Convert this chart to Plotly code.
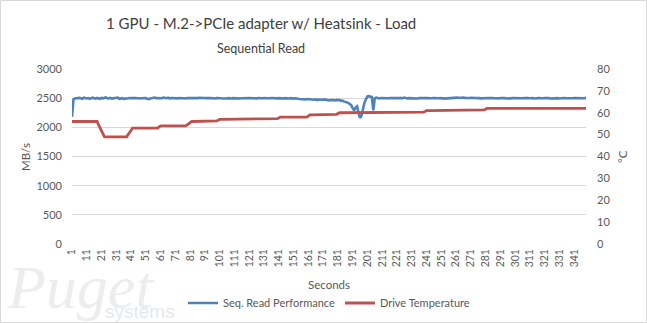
import plotly.graph_objects as go

# ---- data ---------------------------------------------------------------
# Seconds 1..349, sequential read throughput (MB/s), one value per second
read_mbps = [
    2180, 2480, 2495, 2500, 2492, 2505, 2498, 2490, 2508, 2500,
    2495, 2502, 2488, 2500, 2510, 2497, 2493, 2505, 2500, 2490,
    2503, 2497, 2508, 2512, 2495, 2500, 2505, 2493, 2500, 2498,
    2507, 2510, 2490, 2495, 2500, 2488, 2495, 2500, 2497, 2502,
    2498, 2495, 2500, 2502, 2497, 2500, 2495, 2498, 2500, 2496,
    2500, 2490, 2485, 2495, 2500, 2505, 2510, 2500, 2498, 2505,
    2502, 2498, 2510, 2505, 2500, 2508, 2495, 2502, 2500, 2498,
    2505, 2500, 2497, 2503, 2500, 2508, 2500, 2495, 2502, 2500,
    2505, 2498, 2500, 2503, 2497, 2500, 2505, 2500, 2498, 2502,
    2500, 2497, 2505, 2500, 2502, 2498, 2500, 2495, 2500, 2503,
    2500, 2498, 2495, 2500, 2502, 2497, 2500, 2492, 2495, 2500,
    2497, 2500, 2503, 2500, 2495, 2498, 2500, 2502, 2497, 2500,
    2495, 2500, 2498, 2502, 2500, 2497, 2500, 2495, 2500, 2498,
    2502, 2500, 2496, 2500, 2498, 2503, 2500, 2495, 2500, 2497,
    2500, 2498, 2490, 2495, 2500, 2497, 2492, 2495, 2500, 2490,
    2493, 2497, 2488, 2490, 2485, 2480, 2475, 2482, 2478, 2485,
    2480, 2475, 2470, 2478, 2472, 2480, 2468, 2475, 2470, 2465,
    2472, 2478, 2470, 2465, 2460, 2468, 2472, 2466, 2460, 2470,
    2465, 2470, 2455, 2460, 2445, 2440, 2430, 2420, 2400, 2380,
    2330, 2290, 2340, 2360, 2250, 2160, 2200, 2320, 2420, 2480,
    2530, 2535, 2525, 2520, 2290, 2500, 2510, 2500, 2495, 2502,
    2500, 2497, 2505, 2500, 2498, 2503, 2500, 2495, 2500, 2502,
    2498, 2500, 2505, 2497, 2500, 2510, 2500, 2495, 2500, 2498,
    2502, 2500, 2497, 2500, 2495, 2500, 2502, 2498, 2500, 2497,
    2503, 2500, 2498, 2495, 2500, 2502, 2497, 2500, 2498, 2500,
    2495, 2490, 2485, 2492, 2497, 2500, 2505, 2500, 2502, 2508,
    2505, 2510, 2503, 2508, 2505, 2510, 2505, 2500, 2508, 2503,
    2505, 2500, 2498, 2502, 2500, 2505, 2500, 2497, 2500, 2495,
    2500, 2497, 2502, 2500, 2505, 2500, 2498, 2502, 2500, 2497,
    2500, 2503, 2498, 2500, 2495, 2500, 2502, 2497, 2500, 2498,
    2502, 2500, 2497, 2500, 2495, 2498, 2500, 2503, 2497, 2500,
    2498, 2502, 2500, 2495, 2500, 2497, 2502, 2500, 2495, 2498,
    2500, 2502, 2497, 2500, 2495, 2498, 2502, 2500, 2497, 2500,
    2495, 2500, 2498, 2502, 2500, 2497, 2500, 2495, 2500, 2498,
    2502, 2500, 2497, 2500, 2495, 2500, 2498, 2502, 2500,
]

# Drive temperature (°C) per second, stored as (value, number of seconds)
temp_runs = [
    (56, 18), (54.5, 1), (53, 1), (51.5, 1), (50, 1),
    (49, 16), (50, 1), (51, 1), (52, 1),
    (53, 18), (53.5, 1),
    (54, 18), (54.5, 1), (55, 1), (55.5, 1),
    (56, 17), (56.3, 1), (56.6, 1),
    (57, 39), (57.3, 1), (57.6, 1),
    (58, 19), (58.5, 1),
    (59, 18), (59.3, 1), (59.6, 1),
    (60, 57), (60.3, 1), (60.6, 1),
    (61, 39), (61.3, 1), (61.6, 1),
    (62, 68),
]

x_tick_values = list(range(1, 342, 10))
left_ticks = [0, 500, 1000, 1500, 2000, 2500, 3000]
right_ticks = [0, 10, 20, 30, 40, 50, 60, 70, 80]

temperature = [v for v, n in temp_runs for _ in range(n)]
seconds = list(range(1, len(read_mbps) + 1))

# ---- figure -------------------------------------------------------------
FONT = "Lato"
GREY = "#595959"
BLUE = "#4F81BD"
RED = "#C0504D"

fig = go.Figure()
fig.add_trace(go.Scatter(
    x=seconds, y=read_mbps, mode="lines", name="Seq. Read Performance",
    line=dict(color=BLUE, width=2.6), yaxis="y",
))
fig.add_trace(go.Scatter(
    x=seconds[:len(temperature)], y=temperature, mode="lines",
    name="Drive Temperature", line=dict(color=RED, width=2.8), yaxis="y2",
))

L, R, T, B = 72, 61, 69, 79
W, H = 647, 323
pw, ph = W - L - R, H - T - B


def px(xp):
    return (xp - L) / pw


def py(yp):
    return (H - B - yp) / ph


def note(text, x, y, size, color=GREY, angle=0, family=FONT):
    fig.add_annotation(text=text, xref="paper", yref="paper",
                       x=px(x), y=py(y), xanchor="center", yanchor="middle",
                       showarrow=False, textangle=angle,
                       font=dict(family=family, size=size, color=color))


fig.update_layout(
    width=W, height=H,
    margin=dict(l=L, r=R, t=T, b=B, pad=0, autoexpand=False),
    paper_bgcolor="white", plot_bgcolor="white",
    font=dict(family=FONT, color=GREY, size=11),
    showlegend=True,
    legend=dict(
        orientation="h", x=0.5, xanchor="center",
        yref="container", y=1 - 303 / H, yanchor="middle",
        font=dict(size=11, color=GREY), itemwidth=30, tracegroupgap=0,
    ),
    xaxis=dict(
        range=[1, len(read_mbps)], tickmode="array", tickvals=x_tick_values,
        ticktext=[str(v) for v in x_tick_values], tickangle=-90,
        showgrid=False, zeroline=False, showline=False, ticks="",
        ticklabelstandoff=2, tickfont=dict(size=10.5, color=GREY),
    ),
    yaxis=dict(
        range=[0, 3000], tickvals=left_ticks, showgrid=True,
        gridcolor="#D9D9D9", gridwidth=1, zeroline=False, showline=False,
        ticks="", ticklabelstandoff=9, tickfont=dict(size=11, color=GREY),
    ),
    yaxis2=dict(
        range=[0, 80], tickvals=right_ticks, overlaying="y", side="right",
        showgrid=False, zeroline=False, showline=False, ticks="",
        ticklabelstandoff=10, tickfont=dict(size=11, color=GREY),
    ),
)

# Chart frame
fig.add_shape(type="rect", xref="paper", yref="paper",
              x0=px(0.5), x1=px(W - 0.5), y0=py(H - 0.5), y1=py(0.5),
              line=dict(color="#D9D9D9", width=1), layer="below")

# Watermark
note("<i>Puget</i>", 80, 287, 62, color="#EDEDED", family="Liberation Serif")
note("systems", 140, 311, 19, color="#E3E8F0", family="Liberation Sans")

# Titles
note("1 GPU - M.2->PCIe adapter w/ Heatsink - Load", 261, 23, 15, color="#404040")
note("Sequential Read", 261, 49, 12.5, color="#404040")

# Axis titles
note("Seconds", 329, 284, 11.5)
note("MB/s", 25, 157, 11.5, angle=-90)
note("°C", 622, 157, 11.5, angle=-90)

fig.write_html("out.html")
